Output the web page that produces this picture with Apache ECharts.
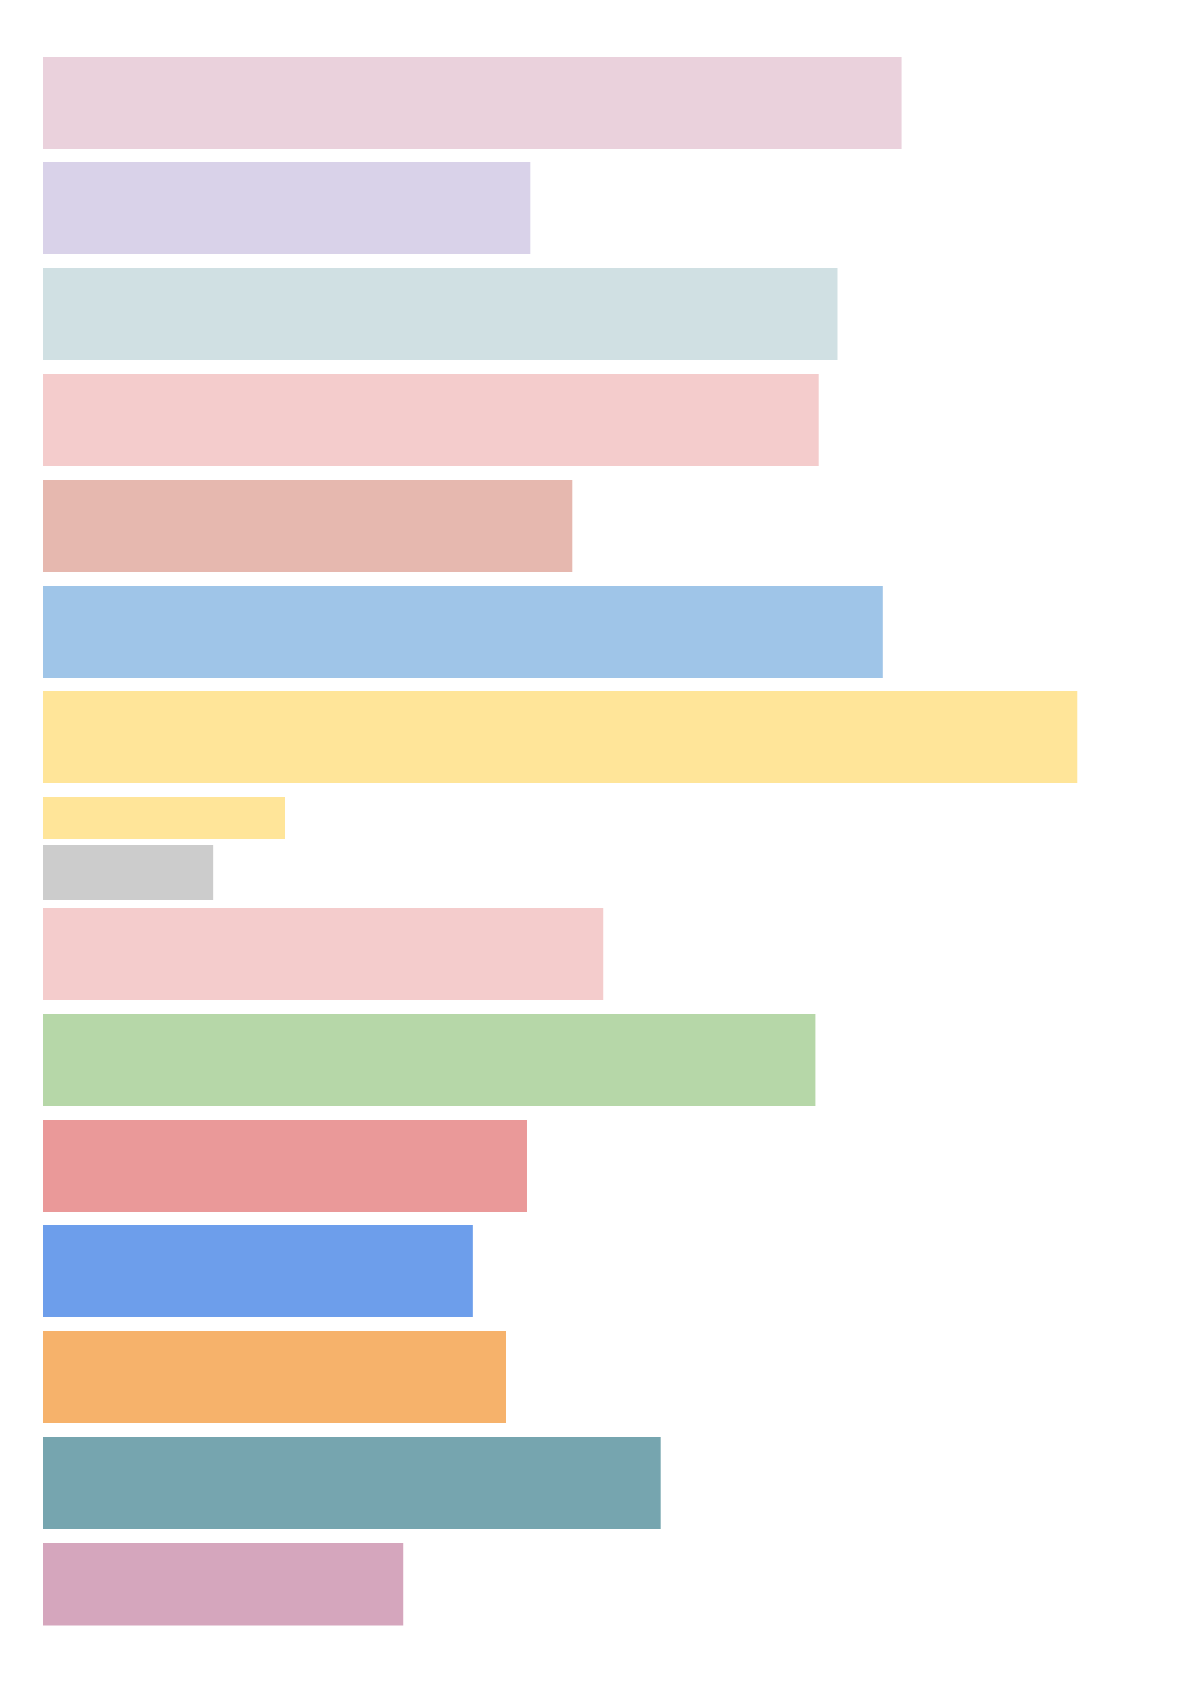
<!DOCTYPE html>
<html>
<head>
<meta charset="utf-8">
<script src="https://cdn.jsdelivr.net/npm/echarts@6/dist/echarts.min.js"></script>
<style>
html,body{margin:0;padding:0;background:#ffffff;}
#chart{width:1191px;height:1684px;}
</style>
</head>
<body>
<div id="chart"></div>
<script>
// Bar lengths (value axis 0..100)
var values = [77.7, 44.1, 71.9, 70.2, 47.9, 76.0, 93.6, 21.9, 15.4, 50.7, 69.9, 43.8, 38.9, 41.9, 55.9, 32.6];
// Band start / end along the vertical axis (row units)
var bandStart = [0, 0.991, 1.991, 2.991, 3.991, 4.991, 5.981, 6.981, 7.434, 8.028, 9.028, 10.028, 11.019, 12.019, 13.019, 14.019];
var bandEnd   = [0.868, 1.858, 2.858, 3.858, 4.858, 5.858, 6.849, 7.377, 7.953, 8.896, 9.896, 10.896, 11.887, 12.887, 13.887, 14.796];
var colors = ['#ead1dc', '#d9d2e9', '#d0e0e3', '#f4cccc', '#e6b8af', '#9fc5e8', '#ffe599', '#ffe599', '#cccccc', '#f4cccc', '#b6d7a8', '#ea9999', '#6d9eeb', '#f6b26b', '#76a5af', '#d5a6bd'];

var data = values.map(function (v, i) { return [v, bandStart[i], bandEnd[i], i]; });

var chart = echarts.init(document.getElementById('chart'), null, {renderer: 'canvas'});
chart.setOption({
  animation: false,
  backgroundColor: '#ffffff',
  grid: {left: 43, right: 43, top: 57, bottom: 37},
  xAxis: {type: 'value', min: 0, max: 100, show: false},
  yAxis: {type: 'value', min: 0, max: 15, inverse: true, show: false},
  series: [{
    type: 'custom',
    data: data,
    encode: {x: 0, y: [1, 2]},
    renderItem: function (params, api) {
      var p0 = api.coord([0, api.value(1)]);
      var p1 = api.coord([api.value(0), api.value(2)]);
      return {
        type: 'rect',
        shape: {x: p0[0], y: p0[1], width: p1[0] - p0[0], height: p1[1] - p0[1]},
        style: {fill: colors[api.value(3)]}
      };
    }
  }]
});
</script>
</body>
</html>
